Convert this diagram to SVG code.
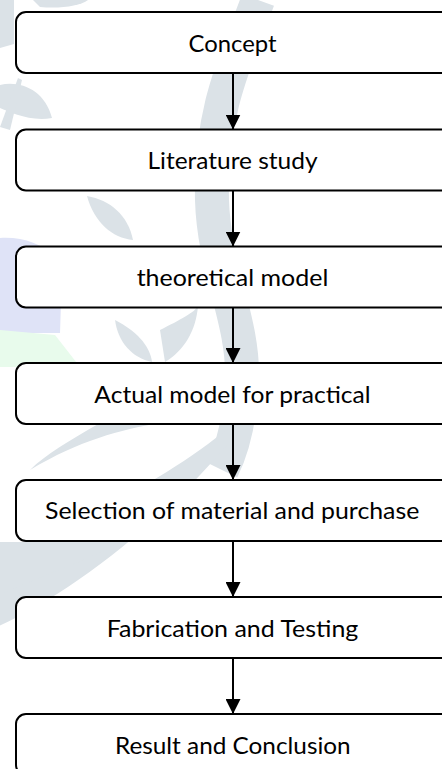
<svg xmlns="http://www.w3.org/2000/svg" width="442" height="769" viewBox="0 0 442 769">
<style>
.wm{fill:#dbe2e7;stroke:none}
.box{fill:#ffffff;stroke:#000000;stroke-width:2}
.lbl{font-family:Lato,"Open Sans","Liberation Sans",sans-serif;font-size:23px;fill:#000000;text-anchor:middle}
.conn{stroke:#000000;stroke-width:2;fill:none}
</style>
<defs>
<marker id="arrow" markerUnits="userSpaceOnUse" markerWidth="15" markerHeight="15" viewBox="0 0 15 15" refX="15" refY="7.5" orient="auto">
<path d="M0,0 L15,7.5 L0,15 Z" fill="#000000"/>
</marker>
</defs>
<rect x="0" y="0" width="442" height="769" fill="#ffffff"/>
<g id="watermark">
<path d="M0,238 C30,236 55,250 62,270 L60,333 L0,333 Z" fill="#dfe3f7"/>
<path d="M0,330 L55,335 L80,367 L0,367 Z" fill="#e8fbec"/>
<path class="wm" d="M0,0 L14,0 L14,44 L0,48 Z"/>
<path class="wm" d="M33,0 L88,0 C80,6 60,9 40,7 Z"/>
<path class="wm" d="M0,85 C20,80 45,90 52,118 C30,122 10,112 0,108 Z"/>
<path class="wm" d="M0,127 L18,78 L22,80 L10,130 Z"/>
<path d="M258,0 C236,60 210,110 212,200 C214,270 244,320 242,380 C240,420 232,450 222,470" stroke="#dbe2e7" stroke-width="34" fill="none"/>
<path class="wm" d="M87,196 C110,200 128,215 133,240 C112,238 94,222 87,196 Z"/>
<path class="wm" d="M115,320 C135,330 150,345 152,362 C132,358 118,342 115,320 Z"/>
<path class="wm" d="M160,330 C180,320 195,312 198,306 C196,330 185,350 165,362 Z"/>
<path class="wm" d="M-10,630 C60,600 160,530 248,420 L238,420 C180,470 100,515 -10,555 Z"/>
<path class="wm" d="M-10,600 C40,575 90,560 115,545 L110,542 L0,542 Z"/>
<path class="wm" d="M30,470 C80,440 120,430 160,423 L100,423 C70,440 45,455 30,470 Z"/>
</g>
<g id="connectors">
<line class="conn" x1="233" y1="73" x2="233" y2="129.5" marker-end="url(#arrow)"/>
<line class="conn" x1="233" y1="190.5" x2="233" y2="246.5" marker-end="url(#arrow)"/>
<line class="conn" x1="233" y1="307.5" x2="233" y2="363" marker-end="url(#arrow)"/>
<line class="conn" x1="233" y1="424" x2="233" y2="480" marker-end="url(#arrow)"/>
<line class="conn" x1="233" y1="541" x2="233" y2="597" marker-end="url(#arrow)"/>
<line class="conn" x1="233" y1="658" x2="233" y2="714" marker-end="url(#arrow)"/>
</g>
<g id="n1"><rect class="box" x="16" y="12" width="440" height="61" rx="10"/><text class="lbl" x="232.5" y="52.3" textLength="88" lengthAdjust="spacingAndGlyphs">Concept</text></g>
<g id="n2"><rect class="box" x="16" y="129.5" width="440" height="61" rx="10"/><text class="lbl" x="232.5" y="169.3" textLength="170" lengthAdjust="spacingAndGlyphs">Literature study</text></g>
<g id="n3"><rect class="box" x="16" y="246.5" width="440" height="61" rx="10"/><text class="lbl" x="232.5" y="286" textLength="191.7" lengthAdjust="spacingAndGlyphs">theoretical model</text></g>
<g id="n4"><rect class="box" x="16" y="363" width="440" height="61" rx="10"/><text class="lbl" x="232.5" y="402.7" textLength="276.3" lengthAdjust="spacingAndGlyphs">Actual model for practical</text></g>
<g id="n5"><rect class="box" x="16" y="480" width="440" height="61" rx="10"/><text class="lbl" x="232.2" y="519.3" textLength="374.3" lengthAdjust="spacingAndGlyphs">Selection of material and purchase</text></g>
<g id="n6"><rect class="box" x="16" y="597" width="440" height="61" rx="10"/><text class="lbl" x="232.5" y="637.3" textLength="251.7" lengthAdjust="spacingAndGlyphs">Fabrication and Testing</text></g>
<g id="n7"><rect class="box" x="16" y="714" width="440" height="61" rx="10"/><text class="lbl" x="232.8" y="754" textLength="235.7" lengthAdjust="spacingAndGlyphs">Result and Conclusion</text></g>
</svg>
